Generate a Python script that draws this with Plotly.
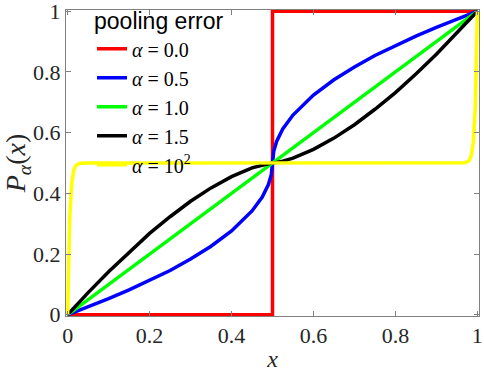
import plotly.graph_objects as go

# sampled x positions
x = [0, 0.005, 0.01, 0.015, 0.02, 0.03, 0.05, 0.1, 0.15, 0.2, 0.25, 0.3, 0.35,
     0.4, 0.45, 0.475, 0.49, 0.497, 0.5,
     0.503, 0.51, 0.525, 0.55, 0.6, 0.65, 0.7, 0.75, 0.8, 0.85, 0.9, 0.95,
     0.97, 0.98, 0.985, 0.99, 0.995, 1]

# alpha = 0.0 (step)
x_step = [0, 0.5, 0.5, 1]
y_a00 = [0, 0, 1, 1]

y_a05 = [0, 0.0025, 0.005, 0.0075, 0.010, 0.015, 0.026, 0.053, 0.082, 0.113,
         0.146, 0.184, 0.226, 0.276, 0.342, 0.388, 0.429, 0.461, 0.5,
         0.539, 0.571, 0.612, 0.658, 0.724, 0.774, 0.816, 0.854, 0.887,
         0.918, 0.947, 0.974, 0.985, 0.990, 0.9925, 0.995, 0.9975, 1]

y_a10 = [0, 0.005, 0.01, 0.015, 0.02, 0.03, 0.05, 0.1, 0.15, 0.2, 0.25, 0.3,
         0.35, 0.4, 0.45, 0.475, 0.49, 0.497, 0.5,
         0.503, 0.51, 0.525, 0.55, 0.6, 0.65, 0.7, 0.75, 0.8, 0.85, 0.9, 0.95,
         0.97, 0.98, 0.985, 0.99, 0.995, 1]

y_a15 = [0, 0.0075, 0.015, 0.022, 0.030, 0.044, 0.073, 0.142, 0.207, 0.268,
         0.323, 0.374, 0.418, 0.455, 0.484, 0.494, 0.4986, 0.4998, 0.5,
         0.5002, 0.5014, 0.506, 0.516, 0.545, 0.582, 0.626, 0.677, 0.732,
         0.793, 0.858, 0.927, 0.956, 0.970, 0.978, 0.985, 0.9925, 1]

y_a100 = [0, 0.317, 0.434, 0.476, 0.492, 0.499, 0.5, 0.5, 0.5, 0.5, 0.5, 0.5,
          0.5, 0.5, 0.5, 0.5, 0.5, 0.5, 0.5,
          0.5, 0.5, 0.5, 0.5, 0.5, 0.5, 0.5, 0.5, 0.5, 0.5, 0.5, 0.5,
          0.501, 0.508, 0.524, 0.566, 0.683, 1]

eq = "\u2005=\u2005"
labels = [f"<i>α</i>{eq}0.0", f"<i>α</i>{eq}0.5", f"<i>α</i>{eq}1.0",
          f"<i>α</i>{eq}1.5", f"<i>α</i>{eq}10<sup>2</sup>"]
colors = ["#ff0000", "#0000ff", "#00ff00", "#000000", "#ffff00"]

fig = go.Figure()
series = [(x_step, y_a00), (x, y_a05), (x, y_a10), (x, y_a15), (x, y_a100)]
for (xs, ys), name, c in zip(series, labels, colors):
    fig.add_trace(go.Scatter(x=xs, y=ys, mode="lines", name=name,
                             line=dict(color=c, width=3.5)))

axis_style = dict(
    range=[-0.004, 1.004], tickvals=[0, 0.2, 0.4, 0.6, 0.8, 1],
    ticktext=["0", "0.2", "0.4", "0.6", "0.8", "1"],
    ticks="inside", ticklen=5, tickcolor="#808080",
    showline=True, linecolor="#808080", linewidth=1, mirror="ticks",
    showgrid=False, zeroline=False, automargin=False,
    ticklabeloverflow="allow",
    tickfont=dict(family="Liberation Serif", size=22, color="#262626"),
)

fig.update_xaxes(**axis_style,
                 title=dict(text="<i>x</i>", standoff=4,
                            font=dict(family="Liberation Serif", size=24, color="#262626")))
fig.update_yaxes(**axis_style,
                 title=dict(text="<i>P</i><sub><i>α</i></sub>(<i>x</i>)", standoff=0,
                            font=dict(family="Liberation Serif", size=28, color="#262626")))

fig.update_layout(
    width=484, height=372,
    margin=dict(l=66, r=5, t=10, b=56, autoexpand=False),
    plot_bgcolor="white", paper_bgcolor="white",
    legend=dict(
        x=0.063, y=1.035, xanchor="left", yanchor="top",
        bgcolor="rgba(0,0,0,0)",
        title=dict(text="pooling error",
                   font=dict(family="Liberation Sans", size=23, color="black")),
        font=dict(family="Liberation Serif", size=20, color="black"),
        itemwidth=30, tracegroupgap=0,
    ),
)

fig.write_html("out.html", config={"displayModeBar": False},
               post_script="document.body.style.margin='0px';")
